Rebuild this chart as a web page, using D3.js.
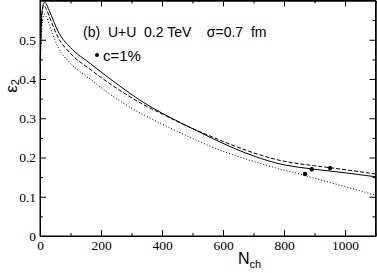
<!DOCTYPE html>
<html lang="en">
  <head>
    <meta charset="UTF-8" />
    <title>eps2 vs Nch</title>
    <script src="https://cdn.jsdelivr.net/npm/d3@7"></script>
  </head>
  <body>
    <svg></svg>
    <style>
      body { margin: 0; background: #fff; }
      svg { width: 377px; height: 273px; display: block; }
      .lbl { font-family: "Liberation Sans", Arial, sans-serif; fill: #000; }
    </style>
    <script>
      // charged multiplicity grid shared by the three curves
      const nch = [1, 4, 8, 12, 15, 20, 30, 60, 100, 164, 200, 260, 320, 400, 460, 530, 600, 700, 790, 850, 900, 1000, 1100];
      const epsSolid = [0.45, 0.54, 0.58, 0.592, 0.596, 0.592, 0.575, 0.52, 0.48, 0.44, 0.418, 0.383, 0.35, 0.313, 0.289, 0.262, 0.236, 0.204, 0.183, 0.175, 0.17, 0.161, 0.151];
      const epsDashed = [0.44, 0.53, 0.575, 0.588, 0.586, 0.58, 0.56, 0.505, 0.465, 0.425, 0.404, 0.372, 0.343, 0.311, 0.288, 0.264, 0.241, 0.212, 0.192, 0.184, 0.179, 0.169, 0.158];
      const epsDotted = [0.42, 0.5, 0.545, 0.562, 0.565, 0.56, 0.54, 0.48, 0.44, 0.4, 0.378, 0.345, 0.317, 0.285, 0.263, 0.238, 0.216, 0.19, 0.17, 0.158, 0.147, 0.126, 0.104];
      // c=1% points
      const ptN = [869, 891, 951];
      const ptEps = [0.158, 0.17, 0.173];

      const xMajor = [0, 200, 400, 600, 800, 1000];
      const xMinor = [100, 300, 500, 700, 900, 1100];
      const yMajor = [0, 0.1, 0.2, 0.3, 0.4, 0.5];
      const yMinor = [0.05, 0.15, 0.25, 0.35, 0.45, 0.55];

      const svg = d3.select("svg");
      const L = 40, R = 375.5, T = 0.5, B = 236;
      const x = d3.scaleLinear().domain([0, 1100]).range([L, R]);
      const y = d3.scaleLinear().domain([0, 0.6]).range([B, T]);

      const fmtY = d => d === 0 ? "0" : d3.format(".1f")(d);

      function axis(gen, tr, vals, size, fmt) {
        const g = svg.append("g").attr("transform", tr)
          .call(gen.tickValues(vals).tickSize(size).tickSizeOuter(0).tickFormat(fmt))
          .attr("font-family", "'Liberation Serif', 'Times New Roman', serif")
          .attr("font-size", 13.5);
        g.select(".domain").attr("stroke", "#000");
        g.selectAll(".tick line").attr("stroke", "#000");
        return g;
      }
      // bottom
      axis(d3.axisBottom(x), `translate(0,${B})`, xMajor, -6, d => d)
        .selectAll(".tick text").attr("y", 4).attr("dy", "0.71em");
      axis(d3.axisBottom(x), `translate(0,${B})`, xMinor, -3, "");
      // top
      axis(d3.axisTop(x), `translate(0,${T})`, xMajor, -6, "");
      axis(d3.axisTop(x), `translate(0,${T})`, xMinor, -3, "");
      // left
      axis(d3.axisLeft(y), `translate(${L},0)`, yMajor, -6, fmtY)
        .selectAll(".tick text").attr("x", -4);
      axis(d3.axisLeft(y), `translate(${L},0)`, yMinor, -3, "");
      // right
      axis(d3.axisRight(y), `translate(${R},0)`, yMajor, -6, "");
      axis(d3.axisRight(y), `translate(${R},0)`, yMinor, -3, "");

      svg.append("rect").attr("x", L).attr("y", T).attr("width", R - L).attr("height", B - T)
        .attr("fill", "none").attr("stroke", "#000").attr("stroke-width", 1);

      const line = d3.line().x(d => x(d[0])).y(d => y(d[1])).curve(d3.curveMonotoneX);
      const series = [
        { vals: epsSolid, dash: null },
        { vals: epsDashed, dash: "4,2" },
        { vals: epsDotted, dash: "1,2" }
      ];
      series.forEach(s => {
        svg.append("path")
          .datum(nch.map((n, i) => [n, s.vals[i]]))
          .attr("d", line)
          .attr("fill", "none")
          .attr("stroke", "#000")
          .attr("stroke-width", 1)
          .attr("stroke-dasharray", s.dash);
      });

      svg.selectAll("circle.pt").data(ptN).enter().append("circle")
        .attr("class", "pt")
        .attr("cx", d => x(d))
        .attr("cy", (d, i) => y(ptEps[i]))
        .attr("r", 2.2)
        .attr("fill", "#000");

      // annotations
      svg.append("text").attr("class", "lbl").attr("x", 83).attr("y", 37)
        .attr("font-size", 14).attr("xml:space", "preserve")
        .text("(b)  U+U  0.2 TeV    \u03c3=0.7  fm");
      svg.append("circle").attr("cx", 97).attr("cy", 55).attr("r", 2).attr("fill", "#000");
      svg.append("text").attr("class", "lbl").attr("x", 103).attr("y", 61)
        .attr("font-size", 15).text("c=1%");

      // axis titles
      const yl = svg.append("text").attr("class", "lbl")
        .attr("transform", "translate(17,86) rotate(-90)")
        .attr("text-anchor", "middle").attr("font-size", 17);
      yl.append("tspan").text("\u03b5");
      yl.append("tspan").attr("font-size", 11).attr("dy", 2).text("2");

      const xl = svg.append("text").attr("class", "lbl")
        .attr("x", 238).attr("y", 264).attr("font-size", 16);
      xl.append("tspan").text("N");
      xl.append("tspan").attr("font-size", 11).attr("dy", 4).text("ch");
    </script>
  </body>
</html>
